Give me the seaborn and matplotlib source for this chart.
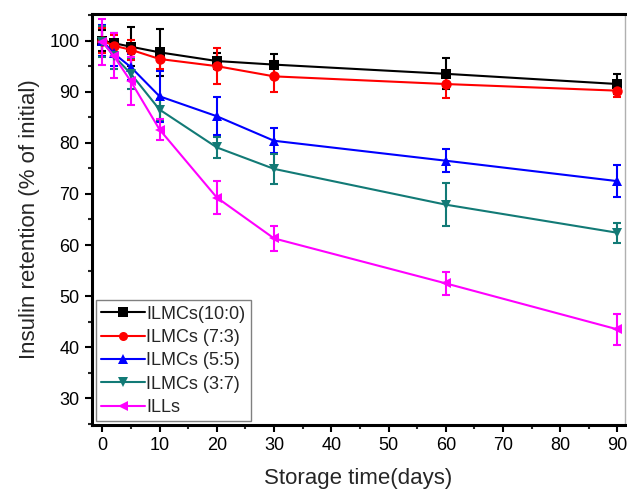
import numpy as np
import pandas as pd
import matplotlib
matplotlib.use("Agg")
import matplotlib.pyplot as plt
from matplotlib.ticker import MultipleLocator
import seaborn as sns

# Storage stability data: mean retention (%) and error (SD) per formulation
days = [0, 2, 5, 10, 20, 30, 60, 90]
series_names = ["ILMCs(10:0)", "ILMCs (7:3)", "ILMCs (5:5)", "ILMCs (3:7)", "ILLs"]

ilmc_10_0 = [100.0, 99.5, 98.8, 97.7, 96.0, 95.3, 93.5, 91.5]
ilmc_10_0_err = [2.0, 2.0, 3.8, 4.6, 1.5, 2.0, 3.0, 2.0]

ilmc_7_3 = [100.0, 99.0, 98.2, 96.4, 95.0, 93.0, 91.5, 90.2]
ilmc_7_3_err = [2.5, 2.0, 2.0, 2.0, 3.5, 3.1, 2.7, 1.2]

ilmc_5_5 = [100.0, 97.5, 94.8, 89.1, 85.2, 80.4, 76.5, 72.5]
ilmc_5_5_err = [3.0, 2.5, 2.5, 5.0, 3.7, 2.4, 2.2, 3.1]

ilmc_3_7 = [99.8, 97.0, 93.5, 86.5, 79.1, 74.9, 67.9, 62.4]
ilmc_3_7_err = [3.0, 2.5, 3.0, 2.0, 2.0, 3.0, 4.2, 2.0]

ills = [99.8, 97.0, 92.0, 82.6, 69.3, 61.3, 52.5, 43.5]
ills_err = [4.5, 4.4, 4.7, 2.0, 3.2, 2.5, 2.2, 3.1]

means = [ilmc_10_0, ilmc_7_3, ilmc_5_5, ilmc_3_7, ills]
errors = [ilmc_10_0_err, ilmc_7_3_err, ilmc_5_5_err, ilmc_3_7_err, ills_err]
colors = ["#000000", "#FF0000", "#0000FF", "#127A76", "#FF00FF"]
markers = ["s", "o", "^", "v", "<"]

df = pd.DataFrame({
    "Storage time(days)": np.tile(days, len(series_names)),
    "retention": np.concatenate(means),
    "err": np.concatenate(errors),
    "group": np.repeat(series_names, len(days)),
})

sns.set_style("ticks")
plt.rcParams["font.family"] = ["Liberation Sans", "DejaVu Sans"]

fig = plt.figure(figsize=(6.27, 4.93), dpi=100)
ax = fig.add_axes([0.1467, 0.138, 0.85, 0.8336])

palette = dict(zip(series_names, colors))
marker_map = dict(zip(series_names, markers))

for name in series_names:
    sub = df[df["group"] == name]
    ax.errorbar(sub["Storage time(days)"], sub["retention"], yerr=sub["err"],
                fmt="none", ecolor=palette[name], elinewidth=1.5,
                capsize=3.2, capthick=1.5, zorder=2)

sns.lineplot(data=df, x="Storage time(days)", y="retention", hue="group",
             style="group", hue_order=series_names, style_order=series_names,
             palette=palette, markers=marker_map, dashes=False,
             markersize=7.5, markeredgewidth=0, linewidth=1.5,
             legend=False, ax=ax, zorder=3)

ax.set_xlim(-1.8, 91.3)
ax.set_ylim(24.8, 105.2)
ax.xaxis.set_major_locator(MultipleLocator(10))
ax.xaxis.set_minor_locator(MultipleLocator(5))
ax.yaxis.set_major_locator(MultipleLocator(10))
ax.yaxis.set_minor_locator(MultipleLocator(5))
ax.set_yticks(np.arange(30, 101, 10))

ax.tick_params(axis="both", which="major", direction="out", length=5,
               width=1.5, labelsize=13, colors="black", pad=4)
ax.tick_params(axis="both", which="minor", direction="out", length=3,
               width=1.5)
ax.tick_params(top=False, right=False, which="both")

for side in ["left", "bottom", "top"]:
    ax.spines[side].set_linewidth(2.2)
    ax.spines[side].set_color("black")
ax.spines["right"].set_linewidth(1.0)
ax.spines["right"].set_color("#b0b0b0")

ax.set_xlabel("Storage time(days)", fontsize=16, labelpad=10)
ax.set_ylabel("Insulin retention (% of initial)", fontsize=16, labelpad=7)

handles = [plt.Line2D([], [], color=c, marker=m, markersize=6.5,
                      markeredgewidth=0, linewidth=1.5)
           for c, m in zip(colors, markers)]
leg = ax.legend(handles, series_names, loc="lower left", fontsize=13,
                frameon=True, fancybox=False, handlelength=2.45,
                handletextpad=0.05, labelspacing=0.35, borderpad=0.3,
                borderaxespad=0.2)
leg.get_frame().set_edgecolor("#606060")
leg.get_frame().set_linewidth(1.0)

fig.savefig("out.png", dpi=100)
